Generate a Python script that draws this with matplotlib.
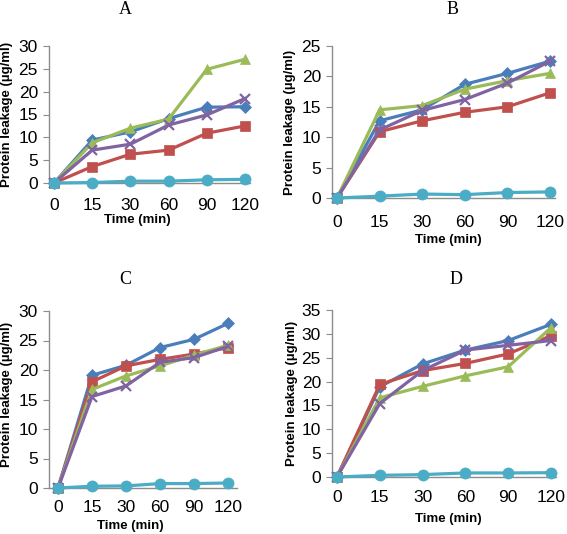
import matplotlib
matplotlib.use("Agg")
import matplotlib.pyplot as plt

W, H = 567, 534

times = ["0", "15", "30", "60", "90", "120"]

# series values per panel: blue, red, green, purple, cyan
a_blue = [0, 9.4, 11.2, 14.1, 16.6, 16.7]
a_red = [0, 3.6, 6.3, 7.2, 10.9, 12.5]
a_green = [0, 8.8, 12.0, 14.0, 24.9, 27.1]
a_purple = [0, 7.2, 8.5, 12.7, 14.9, 18.5]
a_cyan = [0, 0.1, 0.4, 0.4, 0.7, 0.8]

b_blue = [0, 12.7, 14.5, 18.7, 20.5, 22.5]
b_red = [0, 10.9, 12.7, 14.1, 15.0, 17.3]
b_green = [0, 14.5, 15.2, 17.9, 19.3, 20.5]
b_purple = [0, 11.2, 14.4, 16.2, 18.9, 22.5]
b_cyan = [0, 0.3, 0.65, 0.55, 0.9, 1.0]

c_blue = [0, 19.1, 20.8, 23.8, 25.2, 27.9]
c_red = [0, 18.0, 20.7, 21.8, 22.7, 23.8]
c_green = [0, 16.7, 19.0, 20.7, 22.5, 24.2]
c_purple = [0, 15.5, 17.3, 21.3, 22.1, 24.0]
c_cyan = [0, 0.3, 0.35, 0.75, 0.75, 0.85]

d_blue = [0, 18.9, 23.7, 26.6, 28.6, 32.0]
d_red = [0, 19.4, 22.3, 23.8, 25.8, 29.6]
d_green = [0, 16.6, 19.0, 21.2, 23.1, 31.3]
d_purple = [0, 15.4, 22.3, 26.6, 27.6, 28.6]
d_cyan = [0, 0.35, 0.5, 0.85, 0.85, 0.9]

colors = ["#4A7EBB", "#C0504D", "#9BBB59", "#8064A2", "#4BACC6"]
markers = ["D", "s", "^", "x", "o"]
msizes = [6, 7, 7, 7, 8]

# pixel layout: axis left, y of zero, y of top, offset of first category, px per category
panels = [
    dict(name="A", data=[a_blue, a_red, a_green, a_purple, a_cyan], ymax=30,
         left=49, y0=183, ytop=46, off=5, step=38.2, pad=11,
         title=(125, 10), xlab=(137, 220), ylab=(7, 114)),
    dict(name="B", data=[b_blue, b_red, b_green, b_purple, b_cyan], ymax=25,
         left=332, y0=198, ytop=46, off=5, step=42.6, pad=12,
         title=(453, 10), xlab=(448, 240), ylab=(290, 122)),
    dict(name="C", data=[c_blue, c_red, c_green, c_purple, c_cyan], ymax=30,
         left=49, y0=488, ytop=311, off=9, step=34.0, pad=9,
         title=(125, 279), xlab=(130, 526), ylab=(7, 394)),
    dict(name="D", data=[d_blue, d_red, d_green, d_purple, d_cyan], ymax=35,
         left=332, y0=477, ytop=310, off=5, step=42.8, pad=9,
         title=(456, 279), xlab=(448, 519), ylab=(292, 393)),
]

fig = plt.figure(figsize=(W / 100, H / 100), dpi=100)
tickfont = "Liberation Sans"

for p in panels:
    o = p["off"] / p["step"]
    width = (5 + 2 * o) * p["step"]
    ax = fig.add_axes([p["left"] / W, (H - p["y0"]) / H, width / W, (p["y0"] - p["ytop"]) / H])
    x = list(range(len(times)))
    for vals, c, m, ms in zip(p["data"], colors, markers, msizes):
        ax.plot(x, vals, color=c, lw=2.3, marker=m, ms=ms, mew=1.6 if m == "x" else 0.5,
                mec=c, clip_on=False, zorder=3)
    ax.set_xlim(-o, 5 + o)
    ax.set_ylim(0, p["ymax"])
    ax.set_yticks(range(0, p["ymax"] + 1, 5))
    ax.set_xticks(x)
    ax.set_xticklabels(times)
    for s in ["top", "right"]:
        ax.spines[s].set_visible(False)
    for s in ["left", "bottom"]:
        ax.spines[s].set_color("#8C8C8C")
        ax.spines[s].set_linewidth(1.0)
    ax.tick_params(axis="y", length=4, color="#8C8C8C", pad=4)
    ax.tick_params(axis="x", length=0, pad=p["pad"])
    for lab in ax.get_xticklabels() + ax.get_yticklabels():
        lab.set_fontfamily(tickfont)
        lab.set_fontsize(12.5)
    fig.text(p["title"][0] / W, 1 - p["title"][1] / H, p["name"], ha="center", va="center",
             family="Liberation Serif", fontsize=13)
    fig.text(p["xlab"][0] / W, 1 - p["xlab"][1] / H, "Time (min)", ha="center", va="center",
             family=tickfont, fontweight="bold", fontsize=9.5)
    fig.text(p["ylab"][0] / W, 1 - p["ylab"][1] / H, "Protein leakage (µg/ml)", ha="center",
             va="center", rotation=90, family=tickfont, fontweight="bold", fontsize=9.5)

fig.savefig("out.png", dpi=100)
